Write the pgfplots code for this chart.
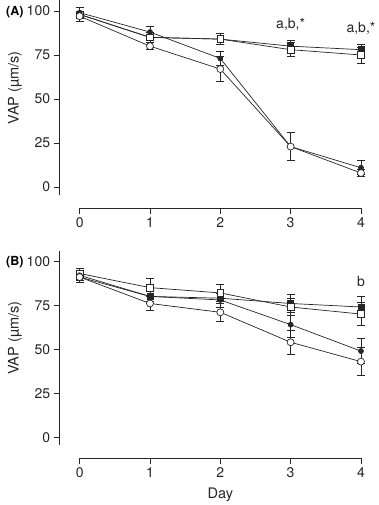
\documentclass[border=0pt]{standalone}
\usepackage{pgfplots}
\pgfplotsset{compat=1.18}
\usepackage{fontspec}
\setmainfont{TeX Gyre Heros}
\begin{document}
\pgfplotsset{
  panel/.style={
    scale only axis, width=281pt, height=194.5pt,
    xmin=0, xmax=4, ymin=-4.5, ymax=106,
    axis x line*=bottom, axis y line*=left,
    axis x line shift=13pt, axis y line shift=20pt,
    axis line style={-, line width=0.7pt, black!85},
    xtick={0,1,2,3,4}, ytick={0,25,50,75,100},
    tick align=outside, major tick length=6pt,
    tick style={line width=0.7pt, black!85},
    /pgf/number format/assume math mode=true,
    ticklabel style={font=\fontsize{14}{16}\selectfont, text=black!85},
    label style={font=\fontsize{14.5}{17}\selectfont, text=black!85},
    ylabel={VAP (µm/s)},
    ylabel style={at={(axis description cs:-0.23,0.55)}, anchor=center},
    xlabel style={yshift=-3pt},
    clip=false,
  },
  ser/.style={black!85, line width=0.7pt,
    error bars/y dir=both, error bars/y explicit,
    error bars/error bar style={line width=0.7pt, black!85},
    error bars/error mark options={rotate=90, mark size=4pt, line width=0.7pt, black!85}},
  fs/.style={ser, mark=square*, mark size=3pt, mark options={solid, fill=black!85}},
  os/.style={ser, mark=square*, mark size=3.4pt, mark options={solid, fill=white}},
  fc/.style={ser, mark=*, mark size=2.5pt, mark options={solid, fill=black!85}},
  oc/.style={ser, mark=*, mark size=3.5pt, mark options={solid, fill=white}},
}
\begin{tikzpicture}
\begin{axis}[panel]
\addplot+[fs] coordinates {(0,98) +- (0,4) (1,85) +- (0,3) (2,84) +- (0,3) (3,80) +- (0,3.5) (4,78) +- (0,3)};
\addplot+[os] coordinates {(0,98) +- (0,4) (1,85) +- (0,3) (2,84) +- (0,3) (3,78) +- (0,4) (4,75) +- (0,4.5)};
\addplot+[fc] coordinates {(0,99) +- (0,3) (1,88) +- (0,3.5) (2,73) +- (0,4) (3,23) +- (0,8) (4,11) +- (0,4)};
\addplot+[oc] coordinates {(0,97) +- (0,3) (1,80) +- (0,2) (2,67) +- (0,7) (3,23) +- (0,8) (4,8) +- (0,2)};
\node[font=\fontsize{14}{16}\selectfont, text=black!85] at (axis cs:3,92.6) {a,b,*};
\node[font=\fontsize{14}{16}\selectfont, text=black!85] at (axis cs:4,89.8) {a,b,*};
\node[anchor=west, font=\bfseries\fontsize{12.5}{14}\selectfont] at (axis description cs:-0.274,0.94) {(A)};
\end{axis}
\begin{axis}[panel, at={(0,-250pt)}, xlabel={Day}]
\addplot+[fs] coordinates {(0,91) +- (0,3) (1,80) +- (0,3) (2,79) +- (0,3) (3,76) +- (0,5) (4,74) +- (0,6)};
\addplot+[os] coordinates {(0,93) +- (0,3) (1,85) +- (0,5) (2,82) +- (0,5) (3,74) +- (0,5) (4,70) +- (0,6.5)};
\addplot+[fc] coordinates {(0,92) +- (0,3) (1,80) +- (0,3) (2,78) +- (0,4) (3,64) +- (0,7) (4,49) +- (0,7)};
\addplot+[oc] coordinates {(0,91) +- (0,3) (1,76) +- (0,4) (2,71) +- (0,5) (3,54) +- (0,7) (4,43) +- (0,8)};
\node[font=\fontsize{14}{16}\selectfont, text=black!85] at (axis cs:4,88.6) {b};
\node[anchor=west, font=\bfseries\fontsize{12.5}{14}\selectfont] at (axis description cs:-0.274,0.94) {(B)};
\end{axis}
\end{tikzpicture}
\end{document}
